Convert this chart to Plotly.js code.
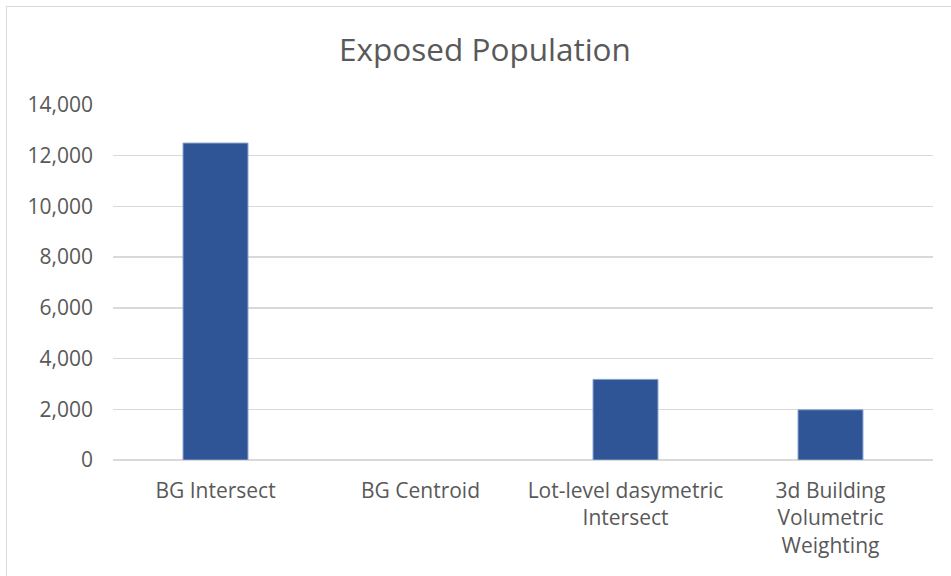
<!DOCTYPE html>
<html>
<head>
<meta charset="utf-8">
<script src="https://cdn.plot.ly/plotly-3.0.1.min.js"></script>
<style>
  html, body { margin: 0; padding: 0; background: #ffffff; }
  #frame { position: absolute; left: 6px; top: 6px; width: 960px; height: 590px; border: 1.5px solid #d9d9d9; box-sizing: border-box; }
  #chart { position: absolute; left: 0; top: 0; width: 951px; height: 576px; }
</style>
</head>
<body>
<div id="frame"></div>
<div id="chart"></div>
<script>
const categories = ["BG Intersect", "BG Centroid", "Lot-level dasymetric<br>Intersect", "3d Building<br>Volumetric<br>Weighting"];
const exposedPopulation = [12500, 0, 3180, 1980];
const yTickValues = [0, 2000, 4000, 6000, 8000, 10000, 12000, 14000];

const fontFamily = "'Open Sans', 'Noto Sans', sans-serif";

const trace = {
  type: "bar",
  x: categories,
  y: exposedPopulation,
  width: 0.317,
  marker: {
    color: "#2f5597",
    line: { color: "#8fa5cf", width: exposedPopulation.map(v => v > 0 ? 1 : 0) }
  },
  hoverinfo: "x+y"
};

const layout = {
  width: 951,
  height: 576,
  paper_bgcolor: "rgba(0,0,0,0)",
  plot_bgcolor: "rgba(0,0,0,0)",
  margin: { l: 113, r: 18, t: 105, b: 116 },
  title: {
    text: "Exposed Population",
    font: { family: fontFamily, size: 31.5, color: "#595959" },
    x: 485 / 951, xref: "container", xanchor: "center",
    y: 1 - 50 / 576, yref: "container", yanchor: "middle"
  },
  xaxis: {
    type: "category",
    tickfont: { family: fontFamily, size: 21, color: "#595959" },
    showgrid: false,
    showline: false,
    ticks: "",
    ticklabelstandoff: 16
  },
  yaxis: {
    range: [0, 14000],
    tickvals: yTickValues,
    tickformat: ",d",
    tickfont: { family: fontFamily, size: 21, color: "#595959" },
    gridcolor: "#d9d9d9",
    gridwidth: 1.5,
    zeroline: true,
    zerolinecolor: "#d9d9d9",
    zerolinewidth: 1.5,
    showline: false,
    ticks: "",
    ticklabelstandoff: 19
  },
  bargap: 0.683,
  showlegend: false
};

Plotly.newPlot("chart", [trace], layout, { displayModeBar: false, staticPlot: true });
</script>
</body>
</html>
